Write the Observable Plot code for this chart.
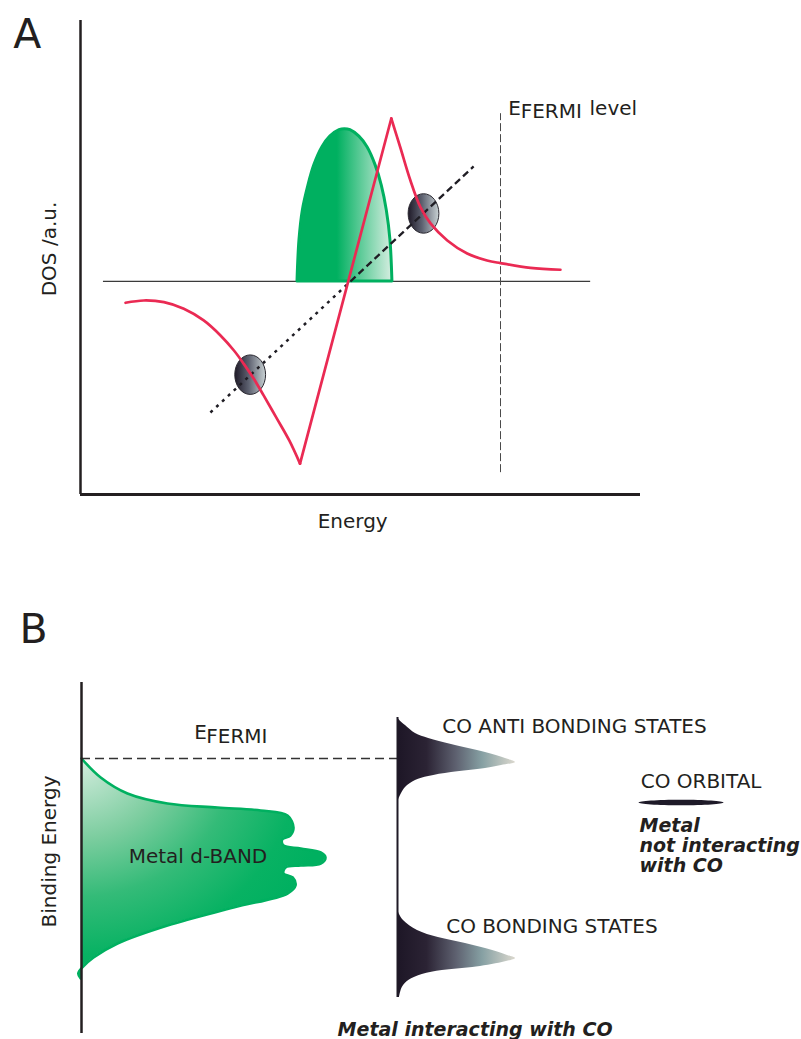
<!DOCTYPE html>
<html>
<head>
<meta charset="utf-8">
<script src="https://cdn.jsdelivr.net/npm/d3@7"></script>
<script src="https://cdn.jsdelivr.net/npm/@observablehq/plot@0.6"></script>
<style>
  body { margin: 0; background: #fff; }
  svg { display: block; }
</style>
</head>
<body>
<div id="panelA"></div>
<div id="panelB"></div>
<script>
// ---------- Panel A: density of states vs. energy (arbitrary units) ----------

// Occupied metal d band (semi-elliptic), energy vs. DOS
const dBandA = [
  {energy: 38.75, dos: 0}, {energy: 39.1, dos: 7.7}, {energy: 39.7, dos: 13.3},
  {energy: 40.7, dos: 18.0}, {energy: 41.75, dos: 21.8}, {energy: 43.2, dos: 25.2},
  {energy: 44.6, dos: 27.2}, {energy: 46.25, dos: 28.4}, {energy: 47.2, dos: 28.6},
  {energy: 48.2, dos: 28.4}, {energy: 49.8, dos: 27.2}, {energy: 51.25, dos: 25.2},
  {energy: 52.7, dos: 21.8}, {energy: 53.8, dos: 18.0}, {energy: 54.7, dos: 13.3},
  {energy: 55.35, dos: 7.7}, {energy: 55.7, dos: 0}
];

// Adsorbate-induced DOS: smooth low-energy branch, linear rise, decaying tail
const adsorbateDos = [
  {part: "low", energy: 8.04, dos: -4.0}, {part: "low", energy: 11.3, dos: -3.57},
  {part: "low", energy: 14.9, dos: -3.89}, {part: "low", energy: 18.45, dos: -5.13},
  {part: "low", energy: 22.0, dos: -7.32}, {part: "low", energy: 25.0, dos: -10.14},
  {part: "low", energy: 27.4, dos: -12.96}, {part: "low", energy: 29.16, dos: -15.47},
  {part: "low", energy: 30.95, dos: -18.27}, {part: "low", energy: 32.7, dos: -21.4},
  {part: "low", energy: 35.1, dos: -25.8}, {part: "low", energy: 37.3, dos: -29.9},
  {part: "low", energy: 39.2, dos: -34.2},
  {part: "rise", energy: 39.2, dos: -34.2}, {part: "rise", energy: 55.5, dos: 30.6},
  {part: "tail", energy: 55.5, dos: 30.6}, {part: "tail", energy: 57.1, dos: 25.2},
  {part: "tail", energy: 58.9, dos: 19.0}, {part: "tail", energy: 60.7, dos: 13.95},
  {part: "tail", energy: 62.5, dos: 10.9}, {part: "tail", energy: 65.5, dos: 7.7},
  {part: "tail", energy: 69.05, dos: 5.25}, {part: "tail", energy: 72.6, dos: 3.95},
  {part: "tail", energy: 75.0, dos: 3.45}, {part: "tail", energy: 80.35, dos: 2.55},
  {part: "tail", energy: 85.7, dos: 2.2}
];

// Trend line through the two carrier states
const trendLower = [{energy: 23.2, dos: -24.6}, {energy: 48.2, dos: 0}];
const trendUpper = [{energy: 48.2, dos: 0}, {energy: 70.2, dos: 21.6}];
const carriers = [{energy: 30.3, dos: -17.5}, {energy: 61.25, dos: 12.77}];

const fermiA = 75;                 // Fermi energy
const fermiSpanA = [-35.9, 31.5];  // DOS extent of the Fermi marker
const zeroSpanA = [4.1, 91.1];     // energy extent of the DOS = 0 line
const energyDomain = [0, 100];
const dosDomain = [-40, 49];

const labelsA = [
  {text: "E", energy: 76.4, dos: 31.35},
  {text: "FERMI", energy: 78.6, dos: 30.6},
  {text: "level", energy: 90.9, dos: 31.35}
];
const titleA = [{text: "A", energy: -12, dos: 43.75}];
const xLabelA = [{text: "Energy", energy: 48.6, dos: -46.2}];
const yLabelA = [{text: "DOS /a.u.", energy: -4.3, dos: 6.1}];

// ---------- Panel B: binding-energy level diagram ----------

// Metal d band outline (width vs. energy, Fermi level at 0)
const dBandB = [
  {energy: 0, dos: 0}, {energy: -4.75, dos: 2.4}, {energy: -8.75, dos: 5.75},
  {energy: -11.25, dos: 10.75}, {energy: -12.25, dos: 17}, {energy: -13, dos: 22.4},
  {energy: -14.25, dos: 25.75}, {energy: -17.25, dos: 26.5}, {energy: -19.25, dos: 26.1},
  {energy: -20.25, dos: 25.1}, {energy: -21.75, dos: 25.25}, {energy: -22.5, dos: 27.4},
  {energy: -23.5, dos: 29.9}, {energy: -24.75, dos: 30.5}, {energy: -26.25, dos: 29.9},
  {energy: -26.75, dos: 27.4}, {energy: -27.25, dos: 25.5}, {energy: -28.75, dos: 25.25},
  {energy: -29.75, dos: 26.4}, {energy: -31.75, dos: 26.75}, {energy: -33.75, dos: 25.75},
  {energy: -37.25, dos: 19}, {energy: -41.75, dos: 10.75}, {energy: -46.25, dos: 4.5},
  {energy: -49.75, dos: 1.5}, {energy: -52.25, dos: 0.1}, {energy: -53.75, dos: -0.4},
  {energy: -55, dos: -0.1}
];

// CO-derived states after interaction with the metal
const coStates = [
  {state: "anti", energy: 10.25, dos: 0}, {state: "anti", energy: 9.25, dos: 0.4},
  {state: "anti", energy: 8.25, dos: 1}, {state: "anti", energy: 6.25, dos: 2.25},
  {state: "anti", energy: 5, dos: 3.9}, {state: "anti", energy: 3.5, dos: 6.75},
  {state: "anti", energy: 1.5, dos: 11}, {state: "anti", energy: 0, dos: 13.5},
  {state: "anti", energy: -1, dos: 14.75}, {state: "anti", energy: -1.75, dos: 13},
  {state: "anti", energy: -2.5, dos: 11}, {state: "anti", energy: -3.5, dos: 6.75},
  {state: "anti", energy: -4.5, dos: 3.9}, {state: "anti", energy: -5.5, dos: 2.25},
  {state: "anti", energy: -7.25, dos: 1}, {state: "anti", energy: -8.75, dos: 0.5},
  {state: "anti", energy: -10.5, dos: 0.1},
  {state: "bond", energy: -37.5, dos: 0}, {state: "bond", energy: -39, dos: 0.25},
  {state: "bond", energy: -40.5, dos: 0.75}, {state: "bond", energy: -43, dos: 2.5},
  {state: "bond", energy: -44.75, dos: 5.1}, {state: "bond", energy: -46.25, dos: 8.5},
  {state: "bond", energy: -48, dos: 11.9}, {state: "bond", energy: -49.25, dos: 13.75},
  {state: "bond", energy: -50, dos: 14.75}, {state: "bond", energy: -51, dos: 13.1},
  {state: "bond", energy: -52.25, dos: 9.4}, {state: "bond", energy: -53, dos: 5.6},
  {state: "bond", energy: -54, dos: 3.1}, {state: "bond", energy: -55.5, dos: 1.4},
  {state: "bond", energy: -57.25, dos: 0.6}, {state: "bond", energy: -59.75, dos: 0.25}
];
const coSpine = 39.5;                  // baseline of the CO states
const coSpineSpan = [-59.75, 10.25];
const coOrbital = [{dos: 74.94, energy: -11}];  // free CO level
const fermiB = 0;
const bDosDomain = [0, 90];
const bEnergyDomain = [-68.75, 19];

const labelsB = [
  {text: "E", dos: 14.1, energy: 5},
  {text: "FERMI", dos: 15.6, energy: 4},
  {text: "CO ANTI BONDING STATES", dos: 45.1, energy: 6.5},
  {text: "CO BONDING STATES", dos: 45.6, energy: -43.5},
  {text: "CO ORBITAL", dos: 69.9, energy: -7.25}
];
const notesB = [
  {text: "Metal", dos: 69.75, energy: -18.25},
  {text: "not interacting", dos: 69.75, energy: -23.25},
  {text: "with CO", dos: 69.75, energy: -28.25}
];
const captionB = [{text: "Metal interacting with CO", dos: 49.2, energy: -69.25}];
const bandLabelB = [{text: "Metal d-BAND", dos: 14.56, energy: -26}];
const titleB = [{text: "B", dos: -7.75, energy: 29}];
const yLabelB = [{text: "Binding Energy", dos: -3.25, energy: -23.25}];

// ---------- shared helpers ----------
const ink = "#231f20";
const green = "#00b060";
const font = "DejaVu Sans";

// elliptical dot symbol: horizontal and vertical radii as fractions of r
const ellipse = (fx, fy) => ({
  draw(context, size) {
    const r = Math.sqrt(size / Math.PI), rx = r * fx, ry = r * fy, k = 0.5523;
    context.moveTo(rx, 0);
    context.bezierCurveTo(rx, k * ry, k * rx, ry, 0, ry);
    context.bezierCurveTo(-k * rx, ry, -rx, k * ry, -rx, 0);
    context.bezierCurveTo(-rx, -k * ry, -k * rx, -ry, 0, -ry);
    context.bezierCurveTo(k * rx, -ry, rx, -k * ry, rx, 0);
    context.closePath();
  }
});

function gradient(defs, id, stops, attrs = {x1: 0, y1: 0, x2: 1, y2: 0}, type = "linearGradient") {
  const g = defs.append(type).attr("id", id);
  for (const [k, v] of Object.entries(attrs)) g.attr(k, v);
  for (const [o, c] of stops) g.append("stop").attr("offset", o).attr("stop-color", c);
}

const defsA = () => {
  const g = d3.create("svg:g");
  const defs = g.append("defs");
  gradient(defs, "bandFillA", [[0, green], [0.42, green], [1, "#d6eee1"]]);
  gradient(defs, "carrierFillA", [[0, "#1f1a28"], [0.45, "#5d6170"], [1, "#c9d2d4"]]);
  return g.node();
};

const defsB = () => {
  const g = d3.create("svg:g");
  const defs = g.append("defs");
  gradient(defs, "bandFillB",
    [[0, "#d6ede0"], [0.35, "#7ccd9f"], [0.6, "#34bb78"], [0.85, "#08b263"], [1, green]],
    {cx: 0, cy: 0, r: 1.05, fx: 0, fy: 0}, "radialGradient");
  gradient(defs, "coFillB",
    [[0, "#1d1626"], [0.25, "#2b2334"], [0.5, "#5e6170"], [0.72, "#86a0a3"], [1, "#dbd8ce"]]);
  return g.node();
};

const textStyle = {fontFamily: font, fontSize: 20, fill: ink, lineAnchor: "bottom"};
const boldStyle = {...textStyle, fontSize: 19, fontWeight: "bold", fontStyle: "italic"};

// ---------- Panel A ----------
const plotA = Plot.plot({
  width: 801, height: 560,
  marginLeft: 80, marginRight: 161, marginTop: 20, marginBottom: 66,
  x: {domain: energyDomain, axis: null},
  y: {domain: dosDomain, axis: null},
  style: {fontFamily: font, background: "#fff", overflow: "visible"},
  marks: [
    defsA,
    Plot.ruleY([0], {x1: zeroSpanA[0], x2: zeroSpanA[1], stroke: "#3b3b3b", strokeWidth: 1.2}),
    Plot.areaY(dBandA, {x: "energy", y: "dos", fill: "url(#bandFillA)", stroke: green, strokeWidth: 3, curve: "catmull-rom"}),
    Plot.ruleX([fermiA], {y1: fermiSpanA[0], y2: fermiSpanA[1], stroke: "#4a4a4a", strokeWidth: 1, strokeDasharray: "8,3"}),
    Plot.dot(carriers, {x: "energy", y: "dos", r: 19.75, symbol: ellipse(0.78, 1), fill: "url(#carrierFillA)", stroke: "#2a2830", strokeWidth: 1}),
    Plot.line(trendLower, {x: "energy", y: "dos", stroke: "#1f1d24", strokeWidth: 2.5, strokeDasharray: "3,5", strokeLinecap: "butt"}),
    Plot.line(trendUpper, {x: "energy", y: "dos", stroke: "#1f1d24", strokeWidth: 2.3, strokeDasharray: "7,4", strokeLinecap: "butt"}),
    Plot.line(adsorbateDos, {x: "energy", y: "dos", z: "part", stroke: "#ea2a53", strokeWidth: 2.7, curve: "catmull-rom"}),
    Plot.ruleX([energyDomain[0]], {y1: dosDomain[0], y2: dosDomain[1], stroke: ink, strokeWidth: 2.5}),
    Plot.ruleY([dosDomain[0]], {x1: energyDomain[0], x2: energyDomain[1], stroke: ink, strokeWidth: 2.8}),
    Plot.text(titleA, {x: "energy", y: "dos", text: "text", ...textStyle, fontSize: 41, textAnchor: "start"}),
    Plot.text(labelsA, {x: "energy", y: "dos", text: "text", ...textStyle, textAnchor: "start"}),
    Plot.text(xLabelA, {x: "energy", y: "dos", text: "text", ...textStyle, textAnchor: "middle"}),
    Plot.text(yLabelA, {x: "energy", y: "dos", text: "text", ...textStyle, textAnchor: "middle", rotate: -90})
  ]
});
document.getElementById("panelA").append(plotA);

// ---------- Panel B ----------
const plotB = Plot.plot({
  width: 801, height: 479,
  marginLeft: 81, marginRight: 0, marginTop: 122, marginBottom: 6,
  x: {domain: bDosDomain, axis: null},
  y: {domain: bEnergyDomain, axis: null},
  style: {fontFamily: font, background: "#fff", overflow: "visible"},
  marks: [
    defsB,
    Plot.areaX(dBandB, {y: "energy", x: "dos", fill: "url(#bandFillB)", curve: "catmull-rom"}),
    Plot.line(dBandB, {x: "dos", y: "energy", stroke: green, strokeWidth: 2.6, curve: "catmull-rom"}),
    Plot.ruleY([fermiB], {x1: bDosDomain[0], x2: coSpine, stroke: "#333", strokeWidth: 1.5, strokeDasharray: "9,5"}),
    Plot.areaX(coStates, {y: "energy", x1: () => coSpine, x2: d => coSpine + d.dos, z: "state", fill: "url(#coFillB)", curve: "catmull-rom"}),
    Plot.ruleX([coSpine], {y1: coSpineSpan[0], y2: coSpineSpan[1], stroke: "#1f1a26", strokeWidth: 2}),
    Plot.dot(coOrbital, {x: "dos", y: "energy", r: 42.5, symbol: ellipse(1, 0.065), fill: "#1e1a28"}),
    Plot.ruleX([bDosDomain[0]], {y1: bEnergyDomain[0], y2: bEnergyDomain[1], stroke: ink, strokeWidth: 2.5}),
    Plot.text(titleB, {x: "dos", y: "energy", text: "text", ...textStyle, fontSize: 41, textAnchor: "start"}),
    Plot.text(labelsB, {x: "dos", y: "energy", text: "text", ...textStyle, textAnchor: "start"}),
    Plot.text(bandLabelB, {x: "dos", y: "energy", text: "text", ...textStyle, textAnchor: "middle"}),
    Plot.text(notesB, {x: "dos", y: "energy", text: "text", ...boldStyle, textAnchor: "start"}),
    Plot.text(captionB, {x: "dos", y: "energy", text: "text", ...boldStyle, textAnchor: "middle"}),
    Plot.text(yLabelB, {x: "dos", y: "energy", text: "text", ...textStyle, textAnchor: "middle", rotate: -90})
  ]
});
document.getElementById("panelB").append(plotB);
</script>
</body>
</html>
